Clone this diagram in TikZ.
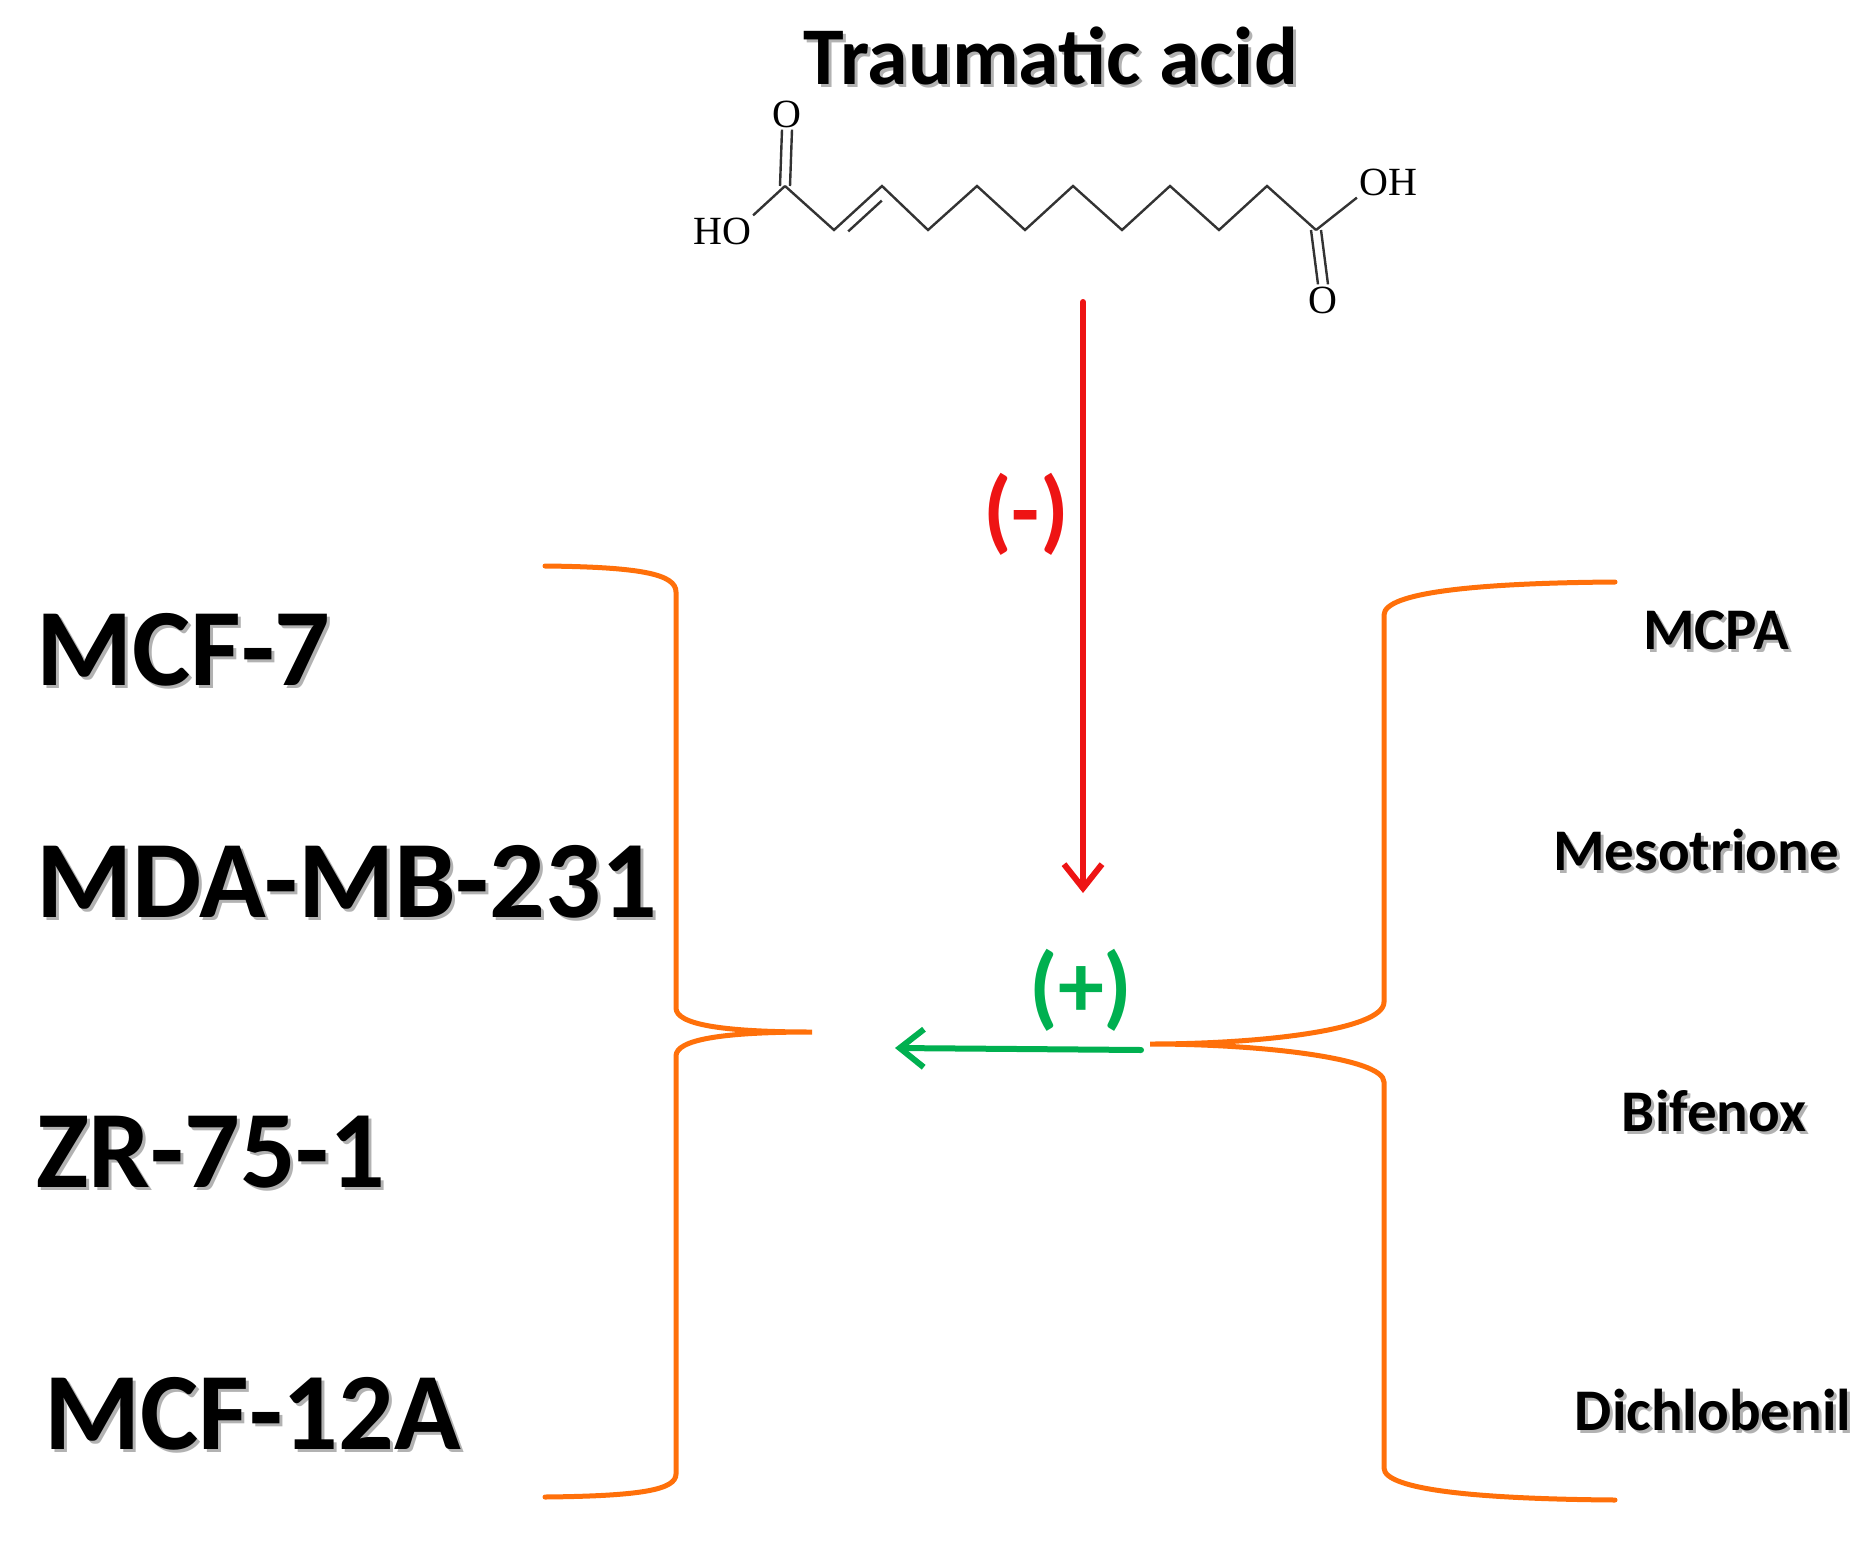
\documentclass[tikz,border=0pt]{standalone}
\usepackage{fontspec}
\setmainfont{Carlito}
\newfontfamily\chem{Liberation Serif}
\usetikzlibrary{arrows.meta,calc}
\definecolor{braceor}{RGB}{255,112,10}
\definecolor{minus}{RGB}{238,20,20}
\definecolor{plus}{RGB}{0,176,80}
\tikzset{
  big/.style={font=\fontsize{110}{120}\selectfont\bfseries, inner sep=0pt},
  herb/.style={font=\fontsize{59}{65}\selectfont\bfseries, inner sep=0pt},
  ttl/.style={font=\fontsize{82}{90}\selectfont\bfseries, inner sep=0pt},
  sign/.style={font=\fontsize{92}{100}\selectfont\bfseries, inner sep=0pt},
  shadow/.style={text=black!30},
  atom/.style={font=\chem\fontsize{40}{44}\selectfont, inner sep=2pt},
  bond/.style={line width=2.4pt, black!80},
  brace/.style={line width=5pt, braceor, line cap=round},
  arr/.style={line width=6pt, line cap=round, -{Straight Barb[length=24pt,width=38pt,line width=6pt]}},
}
\begin{document}
\begin{tikzpicture}[x=1pt,y=-1pt]
\useasboundingbox (0,0) rectangle (1871,1544);
% title
\node[ttl, shadow] at (1054,59) {Traumatic acid};
\node[ttl] (title) at (1051,56) {Traumatic acid};
% molecule
\foreach \i/\x in {1/785,2/834,3/882,4/928,5/977,6/1025,7/1073,8/1122,9/1170,10/1219,11/1267,12/1316}{
  \pgfmathsetmacro{\yy}{mod(\i,2)==1 ? 186 : 230}
  \coordinate (c\i) at (\x,\yy);
}
\draw[bond] (c1)--(c2)--(c3)--(c4)--(c5)--(c6)--(c7)--(c8)--(c9)--(c10)--(c11)--(c12);
\draw[bond] ($(c2)!0.15!(c3)+(7,8)$) -- ($(c2)!0.85!(c3)+(7,8)$);
\node[atom] (o1) at (787,114) {O};
\node[atom] (ho) at (722,231) {HO};
\draw[bond] (c1) -- (ho.north east);
\draw[bond] ($(c1)+(-5,0)$) -- ($(o1.south)+(-5,0)$);
\draw[bond] ($(c1)+(5,0)$) -- ($(o1.south)+(5,0)$);
\node[atom] (oh) at (1388,182) {OH};
\node[atom] (o2) at (1323,300) {O};
\draw[bond] (c12) -- (oh.south west);
\draw[bond] ($(c12)+(-5,0)$) -- ($(o2.north)+(-5,0)$);
\draw[bond] ($(c12)+(5,0)$) -- ($(o2.north)+(5,0)$);
% arrows
\coordinate (rs) at (1083,302);
\coordinate (re) at (1083,893);
\draw[arr, minus] (rs) -- (re);
\node[sign, text=minus] (minuslbl) at (1026,514) {(-)};
\coordinate (gs) at (1141,1050);
\coordinate (ge) at (895,1048);
\draw[arr, plus] (gs) -- (ge);
\node[sign, text=plus] (pluslbl) at (1081,990) {(+)};
% braces
\draw[brace] (545,566) .. controls (640,567) and (676,574) .. (676,592) -- (676,1008)
  .. controls (676,1024) and (720,1032) .. (812,1032)
  .. controls (720,1032) and (676,1040) .. (676,1056) -- (676,1474)
  .. controls (676,1490) and (640,1496) .. (545,1497);
\draw[brace] (1615,582) .. controls (1480,583) and (1384,592) .. (1384,615) -- (1384,1002)
  .. controls (1384,1030) and (1260,1044) .. (1150,1044)
  .. controls (1260,1044) and (1384,1058) .. (1384,1082) -- (1384,1468)
  .. controls (1384,1490) and (1480,1499) .. (1615,1500);
% cell lines
\node[big, shadow, anchor=west] at (39,653) {MCF-7};
\node[big, anchor=west] (m7) at (36,650) {MCF-7};
\node[big, shadow, anchor=west] at (39,885) {MDA-MB-231};
\node[big, anchor=west] (mda) at (36,882) {MDA-MB-231};
\node[big, shadow, anchor=west] at (39,1155) {ZR-75-1};
\node[big, anchor=west] (zr) at (36,1152) {ZR-75-1};
\node[big, shadow, anchor=west] at (47,1417) {MCF-12A};
\node[big, anchor=west] (m12) at (44,1414) {MCF-12A};
% herbicides
\node[herb, shadow] at (1719,633) {MCPA};
\node[herb] (mcpa) at (1716,630) {MCPA};
\node[herb, shadow] at (1699,853) {Mesotrione};
\node[herb] (meso) at (1696,850) {Mesotrione};
\node[herb, shadow] at (1717,1114) {Bifenox};
\node[herb] (bif) at (1714,1111) {Bifenox};
\node[herb, shadow] at (1716,1413) {Dichlobenil};
\node[herb] (dich) at (1713,1410) {Dichlobenil};
\end{tikzpicture}
\end{document}
